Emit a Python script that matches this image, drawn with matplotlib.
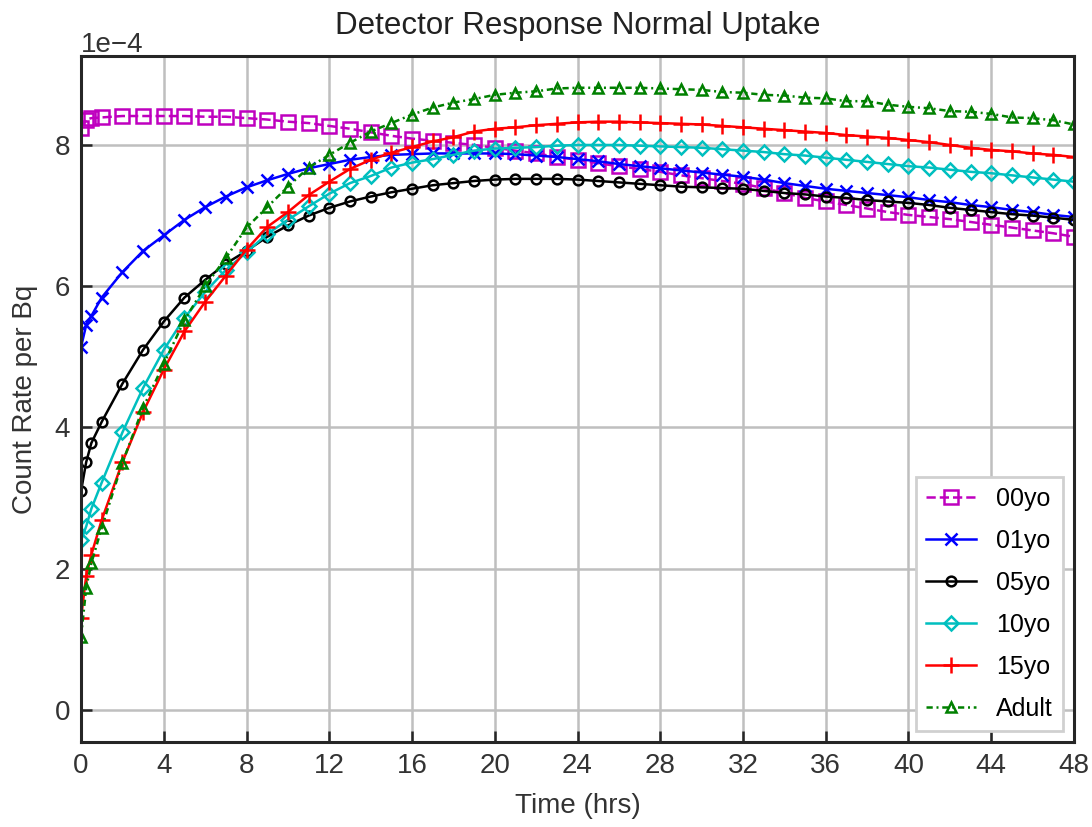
import matplotlib
matplotlib.use("Agg")
import matplotlib.pyplot as plt
from matplotlib.ticker import MultipleLocator

plt.rcParams['font.family'] = ['Liberation Sans', 'DejaVu Sans']

times = [0, 0.25, 0.5] + list(range(1, 49))

y00 = [8.24, 8.36, 8.38, 8.39, 8.41, 8.41, 8.41, 8.41, 8.40, 8.40, 8.38, 8.36, 8.33, 8.31,
       8.27, 8.23, 8.18, 8.13, 8.09, 8.06, 8.03, 8.00, 7.96, 7.92, 7.88, 7.83, 7.79, 7.74,
       7.70, 7.66, 7.62, 7.57, 7.53, 7.49, 7.45, 7.39, 7.32, 7.25, 7.20, 7.15, 7.10, 7.05,
       7.01, 6.98, 6.95, 6.91, 6.87, 6.83, 6.79, 6.75, 6.70]
y01 = [5.14, 5.45, 5.58, 5.84, 6.20, 6.50, 6.72, 6.94, 7.12, 7.27, 7.40, 7.50, 7.59, 7.67,
       7.73, 7.79, 7.83, 7.86, 7.87, 7.88, 7.88, 7.88, 7.88, 7.87, 7.85, 7.83, 7.80, 7.77,
       7.73, 7.70, 7.67, 7.64, 7.61, 7.58, 7.55, 7.51, 7.46, 7.42, 7.38, 7.35, 7.32, 7.29,
       7.26, 7.22, 7.19, 7.15, 7.12, 7.08, 7.05, 7.01, 6.98]
y05 = [3.10, 3.51, 3.78, 4.08, 4.62, 5.10, 5.50, 5.84, 6.09, 6.32, 6.50, 6.70, 6.86, 7.00,
       7.11, 7.20, 7.27, 7.33, 7.38, 7.43, 7.46, 7.49, 7.51, 7.52, 7.52, 7.52, 7.51, 7.49,
       7.47, 7.45, 7.43, 7.41, 7.40, 7.39, 7.38, 7.35, 7.32, 7.30, 7.27, 7.25, 7.22, 7.20,
       7.18, 7.15, 7.11, 7.08, 7.05, 7.02, 7.00, 6.97, 6.94]
y10 = [2.40, 2.60, 2.85, 3.22, 3.93, 4.56, 5.10, 5.55, 5.92, 6.23, 6.48, 6.74, 6.94, 7.13,
       7.31, 7.46, 7.56, 7.68, 7.75, 7.80, 7.86, 7.92, 7.95, 7.96, 7.97, 7.99, 8.00, 8.00,
       8.00, 7.99, 7.98, 7.97, 7.96, 7.94, 7.92, 7.90, 7.87, 7.85, 7.82, 7.79, 7.76, 7.73,
       7.70, 7.68, 7.65, 7.62, 7.60, 7.57, 7.54, 7.51, 7.48]
y15 = [1.30, 1.90, 2.20, 2.69, 3.51, 4.22, 4.82, 5.36, 5.78, 6.15, 6.52, 6.84, 7.05, 7.29,
       7.48, 7.66, 7.79, 7.89, 7.97, 8.05, 8.11, 8.19, 8.23, 8.25, 8.28, 8.30, 8.32, 8.33,
       8.33, 8.32, 8.31, 8.30, 8.29, 8.27, 8.25, 8.23, 8.21, 8.19, 8.17, 8.14, 8.12, 8.10,
       8.07, 8.04, 8.00, 7.96, 7.93, 7.91, 7.88, 7.86, 7.83]
yad = [1.03, 1.73, 2.08, 2.58, 3.50, 4.28, 4.90, 5.52, 6.00, 6.40, 6.83, 7.12, 7.41, 7.68,
       7.86, 8.03, 8.19, 8.31, 8.43, 8.53, 8.60, 8.65, 8.71, 8.74, 8.76, 8.80, 8.81, 8.81,
       8.81, 8.81, 8.80, 8.79, 8.78, 8.75, 8.74, 8.71, 8.70, 8.67, 8.66, 8.62, 8.62, 8.57,
       8.54, 8.52, 8.48, 8.47, 8.44, 8.39, 8.38, 8.35, 8.29]

labels = ['00yo', '01yo', '05yo', '10yo', '15yo', 'Adult']
series = [y00, y01, y05, y10, y15, yad]
colors = ['m', 'b', 'k', 'c', 'r', 'g']
markers = ['s', 'x', 'o', 'D', '+', '^']
msizes = [10, 9, 7, 7, 11, 7]
lstyles = ['--', '-', '-', '-', '-', (0, (2.5, 1.5, 0.8, 1.5))]
scale = 1e-4

fig = plt.figure(figsize=(10.92, 8.27), dpi=100)
ax = fig.add_axes([0.0742, 0.1028, 0.9093, 0.8295])

for lab, ys, c, m, ms, ls in zip(labels, series, colors, markers, msizes, lstyles):
    ax.plot(times, [v * scale for v in ys], color=c, marker=m, markersize=ms,
            markerfacecolor='none', markeredgewidth=1.8, linestyle=ls,
            linewidth=1.8, label=lab)

ax.set_xlim(0, 48)
ax.set_ylim(-0.453e-4, 9.26e-4)
ax.xaxis.set_major_locator(MultipleLocator(4))
ax.yaxis.set_major_locator(MultipleLocator(2e-4))
ax.ticklabel_format(axis='y', style='sci', scilimits=(0, 0))
ax.yaxis.get_offset_text().set_fontsize(20)
ax.yaxis.get_offset_text().set_color('#333333')
ax.grid(True, color='#bfbfbf', linewidth=1.8)
ax.set_axisbelow(True)
for sp in ax.spines.values():
    sp.set_linewidth(2.2)
    sp.set_color('#262626')
ax.tick_params(direction='in', length=8, width=1.8, labelsize=20, pad=8,
               colors='#262626', labelcolor='#333333')

ax.set_title('Detector Response Normal Uptake', fontsize=22.5, pad=16, color='#222222')
ax.set_xlabel('Time (hrs)', fontsize=20, color='#333333', labelpad=10)
ax.set_ylabel('Count Rate per Bq', fontsize=20, color='#333333', labelpad=12)

leg = ax.legend(loc='lower right', fontsize=18, fancybox=False, framealpha=1.0,
                edgecolor='#d0d0d0', labelspacing=0.72, borderaxespad=0.45)
leg.get_frame().set_linewidth(2)

fig.savefig('out.png', dpi=100)
